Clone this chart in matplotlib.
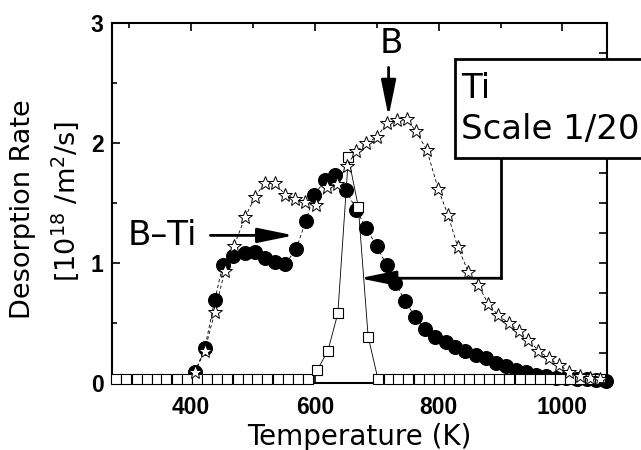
import numpy as np
import matplotlib
matplotlib.use('Agg')
import matplotlib.pyplot as plt
from matplotlib.patches import Rectangle

# Ti (scaled 1/20), open squares
ti_T = [279, 295, 312, 328, 344, 360, 377, 393, 409, 426, 442, 458, 475, 491, 507,
        523, 540, 556, 572, 588, 604, 621, 637, 654, 670, 686, 702, 719, 735, 751,
        768, 784, 800, 816, 833, 849, 865, 882, 898, 914, 931, 947, 963, 980, 996,
        1012, 1028, 1045, 1061]
ti_rate = [0.03, 0.03, 0.03, 0.03, 0.03, 0.03, 0.03, 0.03, 0.03, 0.03, 0.03, 0.03,
           0.03, 0.03, 0.03, 0.03, 0.03, 0.03, 0.03, 0.035, 0.11, 0.27, 0.58, 1.88,
           1.47, 0.385, 0.03, 0.03, 0.03, 0.03, 0.03, 0.03, 0.03, 0.03, 0.03, 0.03,
           0.03, 0.03, 0.03, 0.03, 0.03, 0.03, 0.03, 0.03, 0.03, 0.03, 0.03, 0.03, 0.03]

# B-Ti, filled circles
bti_T = [406, 422, 438, 451, 468, 487, 503,
         519, 535, 552, 570, 585, 599, 617, 633, 650, 667, 683, 700, 716, 730, 746,
         762, 778, 794, 811, 827, 843, 860, 876, 892, 909, 925, 941, 957, 974, 990,
         1006, 1023, 1039, 1055, 1071]
bti_rate = [0.09, 0.29, 0.69, 0.98, 1.06,
            1.08, 1.09, 1.04, 1.01, 0.99, 1.12, 1.35, 1.57, 1.69, 1.73, 1.61, 1.44,
            1.29, 1.14, 0.98, 0.83, 0.68, 0.55, 0.45, 0.385, 0.34, 0.30, 0.27, 0.235,
            0.205, 0.17, 0.14, 0.11, 0.09, 0.07, 0.055, 0.045, 0.04, 0.033, 0.03,
            0.025, 0.02]

# B, open stars
b_T = [406, 422, 438, 454, 469, 487, 503, 519, 535, 552, 568, 584, 602, 620, 635,
       651, 667, 683, 700, 717, 732, 748, 763, 781, 799, 815, 831, 848, 864, 880,
       896, 913, 929, 945, 961, 978, 995, 1011, 1028, 1044, 1060]
b_rate = [0.09, 0.27, 0.59, 0.93, 1.14, 1.38, 1.55, 1.67, 1.665, 1.57, 1.535, 1.51,
          1.48, 1.63, 1.66, 1.81, 1.93, 2.0, 2.05, 2.17, 2.19, 2.2, 2.10, 1.94, 1.62,
          1.40, 1.13, 0.925, 0.815, 0.66, 0.565, 0.50, 0.43, 0.36, 0.27, 0.205, 0.15,
          0.094, 0.058, 0.04, 0.03]

fig = plt.figure(figsize=(6.41, 4.5), dpi=100)
ax = fig.add_axes([112/641, 1-383/450, 495/641, 360/450])

ax.plot(bti_T, bti_rate, ls=(0, (4, 3)), lw=0.6, color='k', marker='o', ms=9.8,
        mfc='k', mec='k', zorder=3, clip_on=False)
ax.plot(ti_T, ti_rate, ls='-', lw=0.6, color='k', marker='s', ms=6.6,
        mfc='white', mec='k', mew=0.8, zorder=4, clip_on=False)
ax.plot(b_T, b_rate, ls=(0, (4, 3)), lw=0.6, color='k', marker='*', ms=10,
        mfc='white', mec='k', mew=0.7, zorder=5, clip_on=False)

ax.set_xlim(272, 1072)
ax.set_ylim(0, 3)
ax.set_xticks([400, 600, 800, 1000])
ax.set_xticks([300, 500, 700, 900], minor=True)
ax.set_yticks([0, 1, 2, 3])
ax.set_yticks([0.5, 1.5, 2.5], minor=True)
for s in ax.spines.values():
    s.set_linewidth(1.5)
ax.tick_params(which='both', direction='in', top=True, right=False, width=1.2)
ax.tick_params(which='major', length=6)
ax.tick_params(which='minor', length=3.5)
ax.tick_params(axis='x', pad=9)
ax.tick_params(axis='y', pad=6)
for lab in ax.get_xticklabels() + ax.get_yticklabels():
    lab.set_fontfamily('Liberation Sans')
    lab.set_fontweight('bold')
    lab.set_fontsize(16.5)

# right side ticks every 0.25
ax2 = ax.twinx()
ax2.set_ylim(0, 3)
ax2.set_yticks(np.arange(0, 3.01, 0.25))
ax2.tick_params(direction='in', length=6, width=1.2, labelright=False)
for s in ax2.spines.values():
    s.set_visible(False)

ax.set_xlabel('Temperature (K)', fontsize=20, labelpad=3)
fig.text(0.036, 0.536, 'Desorption Rate', rotation=90, fontsize=19.5,
         ha='center', va='center')
fig.text(0.101, 0.553, r'[10$^{18}$ /m$^2$/s]', rotation=90, fontsize=19.5,
         ha='center', va='center')

arrow = dict(arrowstyle='-|>,head_length=2.2,head_width=0.45', lw=2.0,
             color='k', mutation_scale=10, shrinkA=0, shrinkB=0)

ax.text(724, 2.83, 'B', fontsize=24.5, ha='center', va='center')
ax.annotate('', xy=(719, 2.22), xytext=(719, 2.63), arrowprops=arrow)

ax.text(298, 1.23, 'B–Ti', fontsize=24.5, ha='left', va='center')
ax.annotate('', xy=(566, 1.23), xytext=(431, 1.23), arrowprops=arrow)

ax.plot([900, 900], [1.87, 0.873], color='k', lw=2.0, zorder=6, clip_on=False)
ax.annotate('', xy=(672, 0.873), xytext=(901, 0.873), arrowprops=arrow, zorder=6)

box = Rectangle((455/641, 1-158/450), 0.4, 99/450, transform=fig.transFigure,
                facecolor='white', edgecolor='k', lw=2.0, zorder=7, clip_on=False)
ax2.add_patch(box)
fig.text(461/641, 1-89/450, 'Ti', fontsize=24.5, ha='left', va='center', zorder=8)
fig.text(461/641, 1-130/450, 'Scale 1/20', fontsize=24.5, ha='left', va='center', zorder=8)

fig.savefig('out.png', dpi=100)
